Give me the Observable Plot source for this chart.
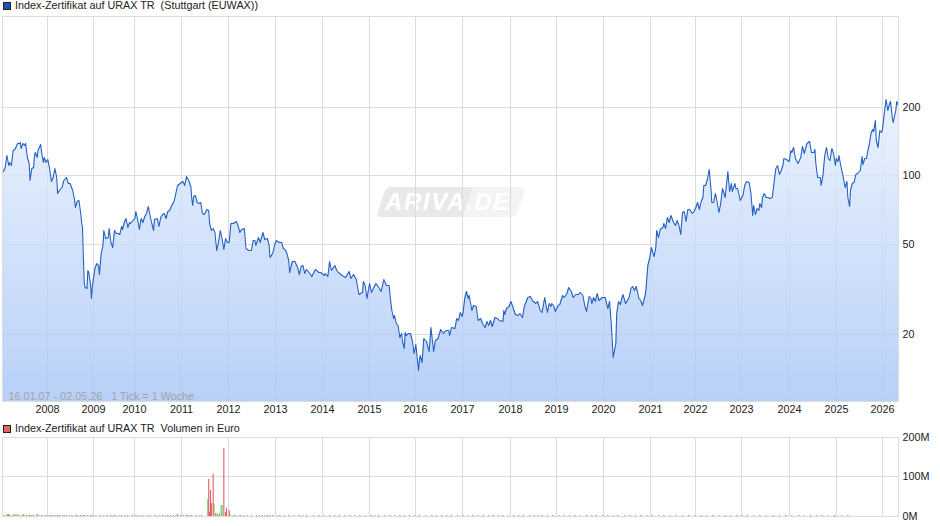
<!DOCTYPE html>
<html><head><meta charset="utf-8">
<script src="https://cdn.jsdelivr.net/npm/d3@7"></script>
<script src="https://cdn.jsdelivr.net/npm/@observablehq/plot@0.6"></script>
<style>
html,body{margin:0;padding:0;background:#fff;overflow:hidden}
body{position:relative;width:940px;height:526px;font-family:"Liberation Sans",Arial,sans-serif;color:#222}
.lg{height:15px;line-height:11px;font-size:10.8px;white-space:pre;position:relative;padding-left:15px}
#l2{top:2px}
.lg i{position:absolute;left:3px;top:2px;width:6px;height:6px;border:1px solid #222;display:block}
#wm{position:absolute;left:381px;top:187px;width:140px;height:30px;transform:skewX(-18deg);border-radius:5px;overflow:hidden;background:linear-gradient(90deg,#e9e9e9 0,#e9e9e9 62%,#f3f3f3 62%,#f3f3f3 100%)}
#wmt{position:absolute;left:385px;top:187px;line-height:30px;font-size:24px;font-weight:bold;font-style:italic;color:#fff;letter-spacing:1.6px}
svg{display:block;position:relative}
</style></head><body>
<div id="wm"></div><div id="wmt">ARIVA.DE</div>
<div class="lg" id="l1"></div><div id="c1"></div>
<div class="lg" id="l2"></div><div id="c2"></div>
<script>
const titlePrice = "Index-Zertifikat auf URAX TR  (Stuttgart (EUWAX))";
const titleVolume = "Index-Zertifikat auf URAX TR  Volumen in Euro";
const infoText = "16.01.07 - 02.05.26\u00a0\u00a0\u00a01 Tick = 1 Woche";
const years = [2008,2009,2010,2011,2012,2013,2014,2015,2016,2017,2018,2019,2020,2021,2022,2023,2024,2025,2026];
const yearWeeks = [50.625,102.375,148.5,201.375,254.25,307.125,360,412.875,464.625,517.5,571.5,623.25,676.125,729,779.625,831.375,885.375,938.25,990];
const priceTicks = [20,50,100,200];
const volumeTicks = [0,100,200];

const weeksA = [0,1,3,5,7,8,10,12,14,17,19,20,21,23,25,26,28,30,31,33,
35,36,37,39,40,43,44,46,47,49,51,53,55,57,59,61,62,64,67,69,
72,74,76,79,81,82,84,86,88,89,90,91,92,93,95,96,97,99,100,101,
102,104,106,108,109,111,113,114,116,119,120,122,124,126,128,130,132,134,135,137,
139,141,143,144,146,149,150,152,154,156,158,160,162,164,166,168,170,171,174,176,
178,180,182,184,186,188,191,193,195,197,200,203,205,207,210,212,213,214,215,217,
219,221,223,225,227,230,232,233,235,237,239,241,243,245,247,249,251,253,255,257,
260,263,265,267,269,272,274,277,280,282,284,285,288,290,293,295,298,300,301,304,
306,308,311,314,316,318,320,322,323,326,329,332,334,336,338,340,342,345,348,352,356];
const pricesA = [103,104.7,109.3,123,111.2,114.3,111.2,129.5,130.4,139.5,138.5,140.8,132.5,139.5,136.2,138.5,121,113.2,95.5,107.5,
109.3,123,127,121,129.5,137,127,115,120,114,118.5,107.5,94.6,98.8,107.5,98.8,83.5,86.3,88.7,95.5,
98.8,92.4,93,86.3,78.6,72.9,77.5,78,68.2,62.6,59.5,43.9,33.5,32.4,31.9,38.4,37.7,33.5,28.8,32.4,
34.6,39,41.3,40.4,36.8,45.5,49.5,57.2,53,53.5,58.6,51.1,48.6,57.2,55.6,56,55,60,58,62.6,
64.8,59.2,62.2,61.6,63.3,64.8,70,64.2,58,64.8,62.6,66.4,68.2,73.6,67,61.6,57.6,64.2,64.8,60,
65.9,67.7,68.2,64.8,70,70.5,74.9,77.3,84,91,93,94.1,91,99.8,94.1,89.2,78.8,74.2,81.2,82,
76.7,75.4,76.7,68.2,67.7,71,70.5,61.6,57.6,58.6,56.6,47,51.1,57.2,53,47.3,53,51.1,51.1,61.6,
61.6,63.3,60.6,56.6,58,58.6,47.8,47,47,52,52,49.5,53.8,51.1,56.6,52.4,53,49.5,43.9,45.5,
49.5,52,51.1,51.1,47.8,47.3,45.5,42.5,37.7,42.1,42.1,39.7,36.8,40,40.4,37.1,38.7,37.7,36.2,38.8,37.7];

const weeksB = [358,362,363,366,368,370,374,376,378,382,386,390,392,395,398,401,405,406,408,410,
413,415,420,422,426,429,432,435,436,438,440,441,443,445,447,449,450,452,453,454,
457,459,461,463,465,468,469,470,472,474,477,480,482,485,487,490,493,496,499,502,
503,505,509,511,513,515,517,518,520,522,524,525,528,530,533,535,538,540,543,545,
547,549,551,554,557,559,563,564,565,567,570,572,574,577,580,582,585,587,591,594,
596,600,602,605,607,610,613,615,617,618,620,622,625,627,630,632,635,637,640,642,
645,648,650,653,655,657,660,662,663,665,667,669,671,675,678,681,683,685,687,690,
691,693,695,698,701,705,707,709,711,713,716,718];
const pricesB = [37.7,36.5,37.1,36,41.8,38.4,40.4,38.4,37.7,36.5,35.6,38,35.5,36.8,35,30.1,30.8,34.4,33,28.8,
33.5,30.8,33.5,33,31,35,33,33,29.8,25.6,23.5,24.2,22.5,21.9,19.5,20.2,18.6,17.4,20.5,19.9,
20.2,20.3,18.9,16.5,18.1,13.9,15.4,16.2,15.1,19.2,18.7,16.8,21.5,16.8,18.9,19.3,21.1,20.2,20.9,20.9,
19.9,21.6,21.2,23.5,23.1,25.1,24,24.7,28.8,31.1,28.8,29.8,25.6,26.9,26.5,23.1,23.5,22.5,21.6,22.8,
21.9,23.1,21.8,23.9,23.5,23.1,22.8,25.6,24.6,26.1,26.7,27.9,26.5,24.6,24.2,24.7,23.9,26.5,29.3,29.5,
28.3,27.4,27.9,25.6,25,29.3,25.1,27.5,26.5,27.4,26.9,25.3,26.9,27.1,29.8,29.3,30.3,32.4,31.1,29.3,
30.1,30.1,30.8,29.8,26.9,25.3,29.5,28.8,27.4,29.1,27.9,30.3,28.3,29.1,29.3,26.2,27.9,21.9,15.9,18.3,
24.7,27.9,27.1,30.1,27.4,29.3,32,32.6,31.3,32.6,28.8,28.3];

const weeksC = [720,723,724,726,728,730,731,733,735,736,738,740,743,744,746,748,750,752,755,757,
759,761,763,765,767,769,771,773,776,778,780,782,784,786,788,789,791,793,795,797,
798,800,802,803,805,806,808,810,813,815,816,818,820,821,824,825,827,830,833,835,
837,840,842,844,845,847,849,851,852,854,855,857,859,861,863,866,868,870,872,874,
876,878,879,882,885,887,888,890,892,895,898,900,902,905,908,910,913,914,915,917,
920,921,923,925,927,929,931,933,935,937,938,940,941,943,945,948,950,951,953,954,
956,958,960,962,965,967,968,970,972,974,975,977,979,980,982,983,985,987,989,990,
992,994,996,998,999,1001,1002,1005,1006,1008];
const pricesC = [26.9,29.8,32,40.4,43.2,48.3,47,44.2,48.6,57.6,53.5,58,59.2,62,58.6,65.9,62.6,67,62.6,60.6,
63.7,60.6,55.3,69.3,70,63,71,71.2,68.2,70,72.9,76.7,71,77.2,80.7,90.8,90.8,96.2,106.5,87.8,
76.7,76.7,84,80.7,72.9,68.9,75.4,88.4,80.7,95.5,104.3,85,92.4,85,92.4,87.8,87.8,78,82,90.8,
94.9,93.9,83.5,67,74.2,67.7,71.7,70.5,75.4,72.9,80.7,83.5,80.2,80.2,79.4,80.7,93.9,107.5,111.2,101.5,
105.7,111.2,119,117.9,116.2,129.5,127.3,133.9,119,113.9,121,135.3,125.2,138.6,142.4,127.3,126.5,130.4,113.2,98.2,
98.2,90.8,100.5,123,133,119,117,131.7,125.2,111.2,119,116.2,123,111.2,102.3,88.7,94.9,80.7,73.6,86.3,
92.4,93.9,101.5,102.3,105.7,122.2,112.4,119,119,131.7,136.2,153.3,159.6,157.5,175.5,143.3,133,158.6,155.9,159.6,
187.7,216.6,194,207.8,213.4,181.4,171.6,194,213.4,204];

const volRedWeeks = [7,8,22,24,30,31,39,53,197,213,232,233,234,235,237,240,242,249,251,252,255,
2,11,27,35,44,48,57,60,64,68,72,78,84,88,92,96,101,110,118,122,127,134,141,146,152,158,166,172,180,186,192,203,208,218,224,
262,268,275,286,292,298,304,312,322,334,342,356,368,379,391,402,415,423,436,447,458,469,483,494,505,518,529,541,552,563,575,586,
598,607,619,632,644,657,668,681,692,706,718,731,744,758,772,786,799,813,826,838,852,867,881,896,909,922,936,951,966,982,997];
const volRedValues = [6,3,3,4,3,3,4,3,4,3,93,10,66,32,106,8,4,172,11,21,16,
1.5,1.5,1.5,1.5,1.5,1.5,1.5,1.5,1.5,1.5,1.5,1.5,1.5,1.5,1.5,1.5,1.5,1.5,1.5,1.5,1.5,1.5,1.5,1.5,1.5,1.5,1.5,1.5,1.5,1.5,1.5,1.5,1.5,1.5,1.5,
1.5,1.5,1.5,1.5,1.5,1.5,1.5,1.5,1.5,1.5,1.5,1.5,1.5,1.5,1.5,1.5,1.5,1.5,1.5,1.5,1.5,1.5,1.5,1.5,1.5,1.5,1.5,1.5,1.5,1.5,1.5,
1.5,1.5,1.5,1.5,1.5,1.5,1.5,1.5,1.5,1.5,1.5,1.5,1.5,1.5,1.5,1.5,1.5,1.5,1.5,1.5,1.5,1.5,1.5,1.5,1.5,1.5,1.5,1.5,1.5];
const volGreenWeeks = [5,6,13,15,17,207,231,238,244,246,247,256,
19,33,41,50,55,62,70,75,82,90,99,105,114,125,131,138,149,155,163,176,183,189,195,200,211,221,
260,266,271,280,289,295,301,309,317,328,338,350,362,374,385,396,408,419,430,441,452,464,476,488,500,512,524,535,547,558,569,581,
593,603,613,626,638,650,663,675,687,700,712,725,738,751,765,779,792,806,819,832,845,859,874,888,902,916,929,944,958,974,989,1004];
const volGreenValues = [4,5,4,4,4,3,43,30,7,28,28,6,
1.5,1.5,1.5,1.5,1.5,1.5,1.5,1.5,1.5,1.5,1.5,1.5,1.5,1.5,1.5,1.5,1.5,1.5,1.5,1.5,1.5,1.5,1.5,1.5,1.5,1.5,
1.5,1.5,1.5,1.5,1.5,1.5,1.5,1.5,1.5,1.5,1.5,1.5,1.5,1.5,1.5,1.5,1.5,1.5,1.5,1.5,1.5,1.5,1.5,1.5,1.5,1.5,1.5,1.5,1.5,1.5,
1.5,1.5,1.5,1.5,1.5,1.5,1.5,1.5,1.5,1.5,1.5,1.5,1.5,1.5,1.5,1.5,1.5,1.5,1.5,1.5,1.5,1.5,1.5,1.5,1.5,1.5,1.5,1.5,1.5,1.5];

const priceMin = 10.16, priceMax = 503, weekMax = 1008;
const gridColor = "#dcdcdc", textColor = "#222";
const font = {fontFamily:'"Liberation Sans",Arial,sans-serif',fontSize:"10.8px",background:"transparent",overflow:"visible"};

const weeks = [...weeksA,...weeksB,...weeksC];
const prices = [...pricesA,...pricesB,...pricesC];
const rows = weeks.map((w,i)=>({week:w,price:prices[i]}));
const yearOf = w => String(years[yearWeeks.indexOf(w)]);

function legend(id,text,color){
  const el=document.getElementById(id);
  el.textContent=text;
  const sw=document.createElement("i");sw.style.background=color;el.prepend(sw);
}
legend("l1",titlePrice,"#1c54b4");
legend("l2",titleVolume,"#e06666");

const gradient = () => {
  const defs=d3.create("svg:defs");
  const g=defs.append("linearGradient").attr("id","areaFill").attr("x1",0).attr("x2",0).attr("y1",0).attr("y2",1);
  g.append("stop").attr("offset",0).attr("stop-color","rgb(230,240,253)").attr("stop-opacity",0.8);
  g.append("stop").attr("offset",1).attr("stop-color","rgb(166,196,246)").attr("stop-opacity",0.8);
  return defs.node();
};

document.getElementById("c1").append(Plot.plot({
  width:940,height:406,marginTop:1,marginBottom:20,marginLeft:2,marginRight:42,style:font,
  x:{domain:[0,weekMax],axis:null},
  y:{type:"log",domain:[priceMin,priceMax],round:true,axis:null},
  marks:[
    gradient,
    Plot.gridX(yearWeeks,{stroke:gridColor,strokeOpacity:1}),
    Plot.gridY(priceTicks,{stroke:gridColor,strokeOpacity:1}),
    Plot.areaY(rows,{x:"week",y1:()=>priceMin,y2:"price",fill:"url(#areaFill)"}),
    Plot.line(rows,{x:"week",y:"price",stroke:"#2460c0",strokeWidth:1.1,curve:"linear"}),
    Plot.frame({stroke:gridColor}),
    Plot.text([infoText],{frameAnchor:"bottom-left",dx:6,dy:-2,fill:"#a3a3a8",fontSize:10.8,textAnchor:"start",lineAnchor:"bottom"}),
    Plot.axisX(yearWeeks,{anchor:"bottom",tickSize:0,tickPadding:4,label:null,tickFormat:yearOf,fill:textColor,color:textColor}),
    Plot.axisY(priceTicks,{anchor:"right",tickSize:0,tickPadding:4,label:null,tickFormat:d=>String(d),fill:textColor,color:textColor})
  ]
}));

const volRed = volRedWeeks.map((w,i)=>({week:w,vol:volRedValues[i]}));
const volGreen = volGreenWeeks.map((w,i)=>({week:w,vol:volGreenValues[i]}));
document.getElementById("c2").append(Plot.plot({
  width:940,height:90,marginTop:1,marginBottom:10,marginLeft:2,marginRight:42,style:font,
  x:{domain:[0,weekMax],axis:null},
  y:{domain:[0,199.5],round:true,axis:null},
  marks:[
    Plot.gridX(yearWeeks,{stroke:gridColor,strokeOpacity:1}),
    Plot.gridY(volumeTicks,{stroke:gridColor,strokeOpacity:1}),
    Plot.frame({stroke:gridColor}),
    Plot.ruleX(volGreen,{x:"week",y1:0,y2:"vol",stroke:"#62d062",strokeWidth:1.1}),
    Plot.ruleX(volRed,{x:"week",y1:0,y2:"vol",stroke:"#e06060",strokeWidth:1.1}),
    Plot.axisY(volumeTicks,{anchor:"right",tickSize:0,tickPadding:4,label:null,tickFormat:d=>d+"M",fill:textColor,color:textColor})
  ]
}));
</script>
</body></html>
